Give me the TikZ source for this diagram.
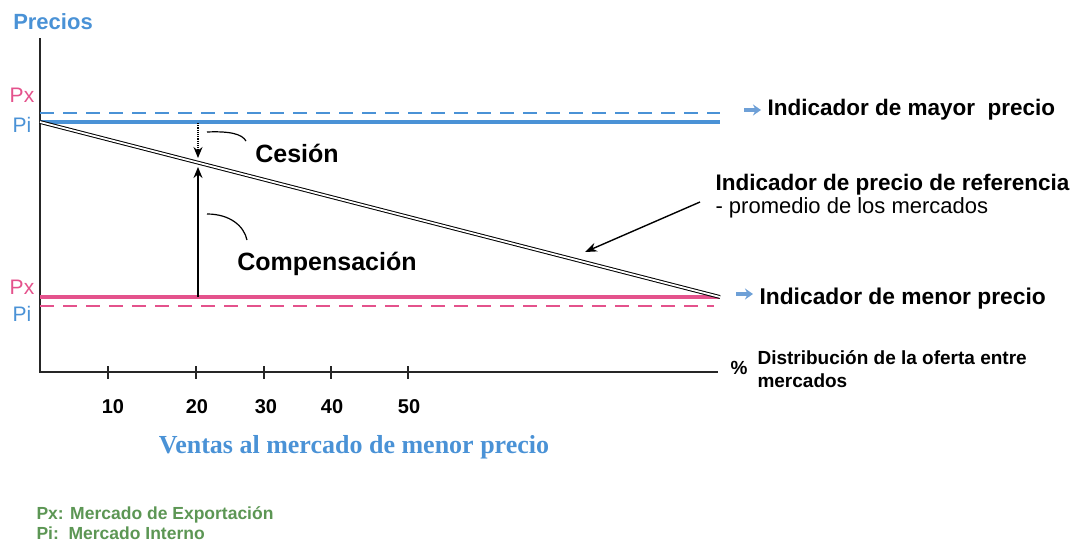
\documentclass[tikz,border=0pt]{standalone}
\usepackage{fontspec}
\setmainfont{Liberation Sans}
\newfontfamily\serifa{Liberation Serif}
\usetikzlibrary{arrows, arrows.meta, positioning}
\definecolor{azul}{RGB}{74,146,214}
\definecolor{rosa}{RGB}{228,82,140}
\definecolor{verde}{RGB}{92,150,84}
\definecolor{flecha}{RGB}{110,160,215}

\begin{document}
\begin{tikzpicture}[x=1pt,y=-1pt]
        \useasboundingbox (0,0) rectangle (1074,541);
        % puntos de los ejes y de las lineas
        \coordinate (top) at (40,38);
        \coordinate (o) at (40,372);
        \coordinate (xend) at (718,372);
        \coordinate (bs) at (40,122);  \coordinate (bse) at (720,122);
        \coordinate (bd) at (40,113);  \coordinate (bde) at (720,113);
        \coordinate (rs) at (40,297);  \coordinate (rse) at (720,297);
        \coordinate (rd) at (40,306);  \coordinate (rde) at (714,306);
        \coordinate (mid) at (198,163);
        \coordinate (cup) at (198,123);
        \coordinate (cdown) at (198,297);
        \begin{scope}[every node/.style={font=\bfseries}]
          \node[azul, font=\bfseries\fontsize{22}{24}\selectfont] (precios) at (53,22) {Precios};
          \node[rosa, font=\fontsize{21}{22}\selectfont] (pxa) at (22,95) {Px};
          \node[azul, font=\fontsize{21}{22}\selectfont] (pia) at (22,125) {Pi};
          \node[rosa, font=\fontsize{21}{22}\selectfont] (pxb) at (22,287) {Px};
          \node[azul, font=\fontsize{21}{22}\selectfont] (pib) at (22,314) {Pi};
          \node[font=\bfseries\fontsize{25}{28}\selectfont] (cesion) at (297,153) {Cesión};
          \node[font=\bfseries\fontsize{25}{28}\selectfont] (comp) at (327,264) {Compensación};
          \node[anchor=west, font=\bfseries\fontsize{22.5}{26}\selectfont] (mayor) at (764,110) {Indicador de mayor\ \ precio};
          \node[anchor=west, font=\bfseries\fontsize{22.8}{26}\selectfont] (menor) at (756,299) {Indicador de menor precio};
          \node[anchor=west, font=\bfseries\fontsize{22.5}{26}\selectfont] (ref) at (712,185) {Indicador de precio de referencia};
          \node[anchor=west, font=\mdseries\fontsize{22}{26}\selectfont] (prom) at (712,208) {- promedio de los mercados};
          \node[font=\bfseries\fontsize{19}{22}\selectfont] (pct) at (739,368) {\%};
          \node[anchor=west, align=left, font=\bfseries\fontsize{19}{23}\selectfont] (distr) at (754,369) {Distribución de la oferta entre\\mercados};
          \node[font=\bfseries\fontsize{20}{22}\selectfont] (t10) at (113,407) {10};
          \node[font=\bfseries\fontsize{20}{22}\selectfont] (t20) at (197,407) {20};
          \node[font=\bfseries\fontsize{20}{22}\selectfont] (t30) at (266,407) {30};
          \node[font=\bfseries\fontsize{20}{22}\selectfont] (t40) at (332,407) {40};
          \node[font=\bfseries\fontsize{20}{22}\selectfont] (t50) at (409,407) {50};
          \node[azul, font=\serifa\bfseries\fontsize{26}{28}\selectfont] (ventas) at (354,447) {Ventas al mercado de menor precio};
          \node[verde, anchor=west, align=left, font=\bfseries\fontsize{17.5}{20}\selectfont] (leyenda) at (33,523) {Px: Mercado de Exportación\\Pi:\ \ Mercado Interno};
        \end{scope}
        % ejes
        \draw[line width=1.3pt, black!85] (top) -- (o) -- (xend);
        \foreach \x in {108,196,264,331,408}
          \draw[line width=1.3pt, black!85] (\x,366) -- (\x,379);
        % lineas de precios
        \begin{scope}[line width=3.3pt]
          \path[draw=azul, dash pattern=on 14pt off 9pt, line width=2.8pt] (bd) edge (bde);
          \path[draw=azul] (bs) edge (bse);
          \path[draw=rosa] (rs) edge (rse);
          \path[draw=rosa, dash pattern=on 14pt off 9pt, line width=2.8pt] (rd) edge (rde);
        \end{scope}
        \draw[double, line width=1pt, double distance=1.8pt] (bs) -- (rse);
        % flechas
        \draw[densely dotted, line width=1.2pt, -{Stealth[length=11pt,width=9pt]}] (cup) -- ([yshift=5pt]mid);
        \draw[line width=1.5pt, -{Stealth[length=11pt,width=9pt]}] (cdown) -- ([yshift=-4pt]mid);
        \draw[line width=1.2pt] (207,132) .. controls (230,131) and (242,134) .. (246,141);
        \draw[line width=1.2pt] (207,214) .. controls (230,214) and (244,226) .. (247,240);
        \draw[line width=1.4pt, -{Stealth[length=12pt,width=9pt]}] (prom.west) ++(-12pt,6pt) coordinate (rini) -- (585,252);
        \begin{scope}[flecha, line width=4.5pt, -{Stealth[length=8pt,width=11pt]}]
          \draw ([xshift=-20pt]mayor.west) -- ([xshift=-3pt]mayor.west);
          \draw ([xshift=-20pt,yshift=5pt]menor.west) -- ([xshift=-3pt,yshift=5pt]menor.west);
        \end{scope}
      \end{tikzpicture}
\end{document}
